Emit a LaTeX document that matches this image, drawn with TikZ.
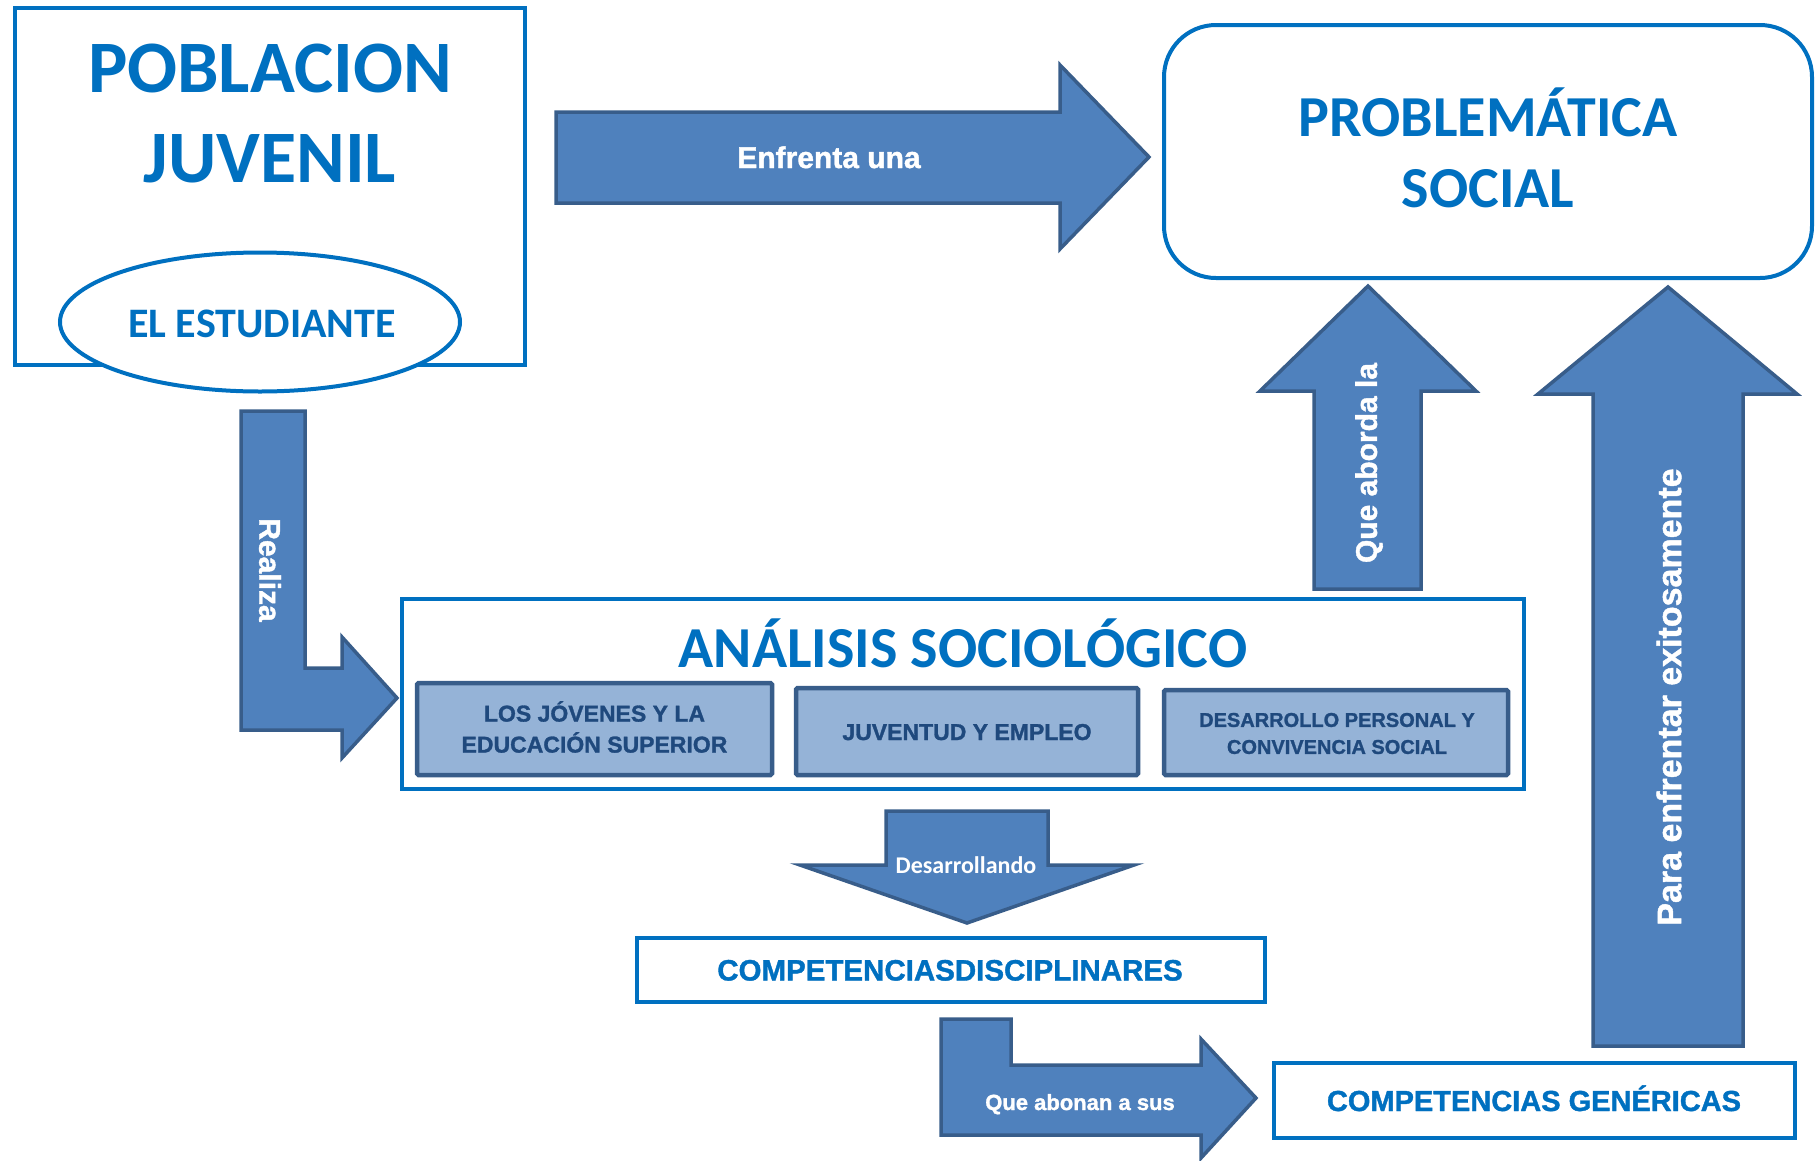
\documentclass[tikz,border=0pt]{standalone}
\usepackage{fontspec}
\setmainfont{Liberation Sans}[BoldFont={Liberation Sans Bold}, BoldFeatures={FakeBold=1.3}]
\newfontfamily\calfont{Carlito}[BoldFont={Carlito Bold}]
\usetikzlibrary{shapes.geometric}
\definecolor{tblue}{HTML}{0070C0}
\definecolor{afill}{HTML}{4F81BD}
\definecolor{aline}{HTML}{385D8A}
\definecolor{sfill}{HTML}{95B3D7}
\definecolor{stext}{HTML}{1F497D}
\begin{document}
\begin{tikzpicture}[x=1pt,y=-1pt,
  box/.style={draw=tblue, line width=4pt, fill=white, inner sep=0pt},
  blk/.style={draw=aline, fill=afill, line width=3.5pt, line join=miter},
  subbox/.style={draw=aline, fill=sfill, line width=4.5pt, inner sep=0pt, rounded corners=1.5pt},
  title/.style={text=tblue, inner sep=0pt, align=center},
  arrtxt/.style={text=white, inner sep=0pt},
  subtxt/.style={text=stext, inner sep=0pt, align=center},
  comptxt/.style={text=tblue, inner sep=0pt}]
\useasboundingbox (0,0) rectangle (1816,1160);

% block arrows
\draw[blk] (556,112) -- (1060,112) -- (1060,65) -- (1149,157) -- (1060,249) -- (1060,203) -- (556,203) -- cycle;
\draw[blk] (241,411) -- (305,411) -- (305,668) -- (342,668) -- (342,637) -- (397,698) -- (342,758) -- (342,730) -- (241,730) -- cycle;
\draw[blk] (1314,589) -- (1314,391) -- (1260,391) -- (1368,286) -- (1476,391) -- (1421,391) -- (1421,589) -- cycle;
\draw[blk] (1593,1046) -- (1593,394) -- (1538,394) -- (1668,287) -- (1797,394) -- (1743,394) -- (1743,1046) -- cycle;
\draw[blk] (886,811) -- (1048,811) -- (1048,865) -- (1134,865) -- (967,923) -- (800,865) -- (886,865) -- cycle;
\draw[blk] (941,1019) -- (1011,1019) -- (1011,1065) -- (1201,1065) -- (1201,1039) -- (1256,1098) -- (1201,1158) -- (1201,1135) -- (941,1135) -- cycle;

% boxes
\node[box, minimum width=510pt, minimum height=357pt] (pob) at (270,186.5) {};
\node[title, font=\calfont\bfseries\fontsize{74}{90}\selectfont] (pobt) at (270,114) {POBLACION\\JUVENIL};
\node[box, ellipse, minimum width=400pt, minimum height=139pt] (est) at (260,322) {};
\node[title, font=\calfont\bfseries\fontsize{42}{48}\selectfont, anchor=base] (estt) at (262,337) {EL ESTUDIANTE};

\node[box, rounded corners=52pt, minimum width=648pt, minimum height=253pt] (prob) at (1488,151.5) {};
\node[title, font=\calfont\bfseries\fontsize{58}{71}\selectfont] (probt) at (1488,147.5) {PROBLEMÁTICA\\SOCIAL};

\node[box, minimum width=1122pt, minimum height=190pt] (ana) at (963,694) {};
\node[title, font=\calfont\bfseries\fontsize{58}{66}\selectfont, anchor=base] (anat) at (963,667) {ANÁLISIS SOCIOLÓGICO};

\node[subbox, minimum width=355pt, minimum height=92pt] (s1) at (594.5,729) {};
\node[subtxt, font=\bfseries\fontsize{23}{31}\selectfont] (s1t) at (594.5,727) {LOS JÓVENES Y LA\\EDUCACIÓN SUPERIOR};
\node[subbox, minimum width=342pt, minimum height=87pt] (s2) at (967,731.5) {};
\node[subtxt, font=\bfseries\fontsize{23}{28}\selectfont, anchor=base] (s2t) at (967,740) {JUVENTUD Y EMPLEO};
\node[subbox, minimum width=344pt, minimum height=85pt] (s3) at (1336,732.5) {};
\node[subtxt, font=\bfseries\fontsize{20}{27}\selectfont] (s3t) at (1337,733.5) {DESARROLLO PERSONAL Y\\CONVIVENCIA SOCIAL};

\node[box, minimum width=628pt, minimum height=64pt] (cd) at (951,970) {};
\node[comptxt, font=\bfseries\fontsize{29.5}{34}\selectfont, anchor=base] (cdt) at (950,980.5) {COMPETENCIASDISCIPLINARES};
\node[box, minimum width=521pt, minimum height=75pt] (cg) at (1534.5,1100.5) {};
\node[comptxt, font=\bfseries\fontsize{29}{34}\selectfont, anchor=base] (cgt) at (1534,1111) {COMPETENCIAS GENÉRICAS};

% arrow labels
\node[arrtxt, font=\bfseries\fontsize{30}{34}\selectfont, anchor=base] (l1) at (829,168) {Enfrenta una};
\node[arrtxt, font=\bfseries\fontsize{30}{34}\selectfont, rotate=-90] (l2) at (270,570) {Realiza};
\node[arrtxt, font=\bfseries\fontsize{30}{34}\selectfont, rotate=90] (l3) at (1369,463) {Que aborda la};
\node[arrtxt, font=\bfseries\fontsize{34}{38}\selectfont, rotate=90] (l4) at (1669,697) {Para enfrentar exitosamente};
\node[arrtxt, font=\calfont\bfseries\fontsize{24}{28}\selectfont, anchor=base] (l5) at (966,873) {Desarrollando};
\node[arrtxt, font=\bfseries\fontsize{22}{26}\selectfont, anchor=base] (l6) at (1080,1110) {Que abonan a sus};
\end{tikzpicture}
\end{document}
